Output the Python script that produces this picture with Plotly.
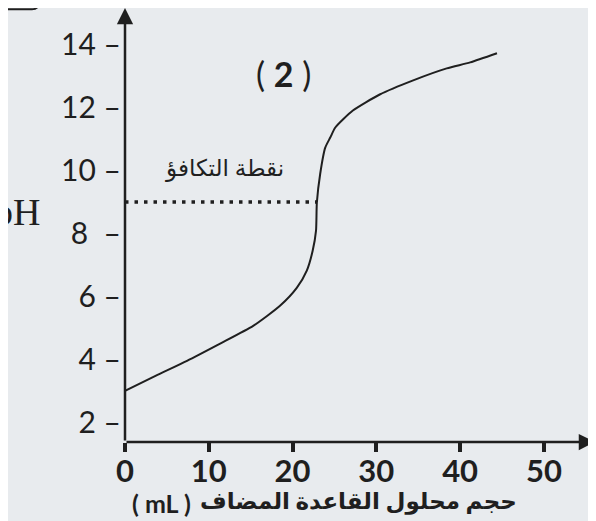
import plotly.graph_objects as go

# Data (volume of added base in mL vs pH)
volume = [0, 3.7, 7.4, 11.3, 15.3, 18.5, 20.5, 21.7, 22.4, 22.8, 22.9, 23.3, 23.9, 24.5, 25.1, 27.2, 30.4, 34.4, 38.4, 41.2, 44.4]
ph = [3.0, 3.48, 3.95, 4.49, 5.06, 5.70, 6.27, 6.82, 7.45, 8.09, 8.98, 9.90, 10.73, 11.05, 11.37, 11.91, 12.42, 12.87, 13.25, 13.44, 13.73]

eq_volume = 22.9
eq_ph = 9

x_ticks = [0, 10, 20, 30, 40, 50]
y_ticks = [2, 4, 6, 8, 10, 12, 14]
y_ticktext = ["2 –", "4 –", "6 –", "8  –", "10 –", "12 –", "14 –"]

x_title_unit = "( mL )"
x_title_text = "حجم محلول القاعدة المضاف"
eq_label = "نقطة التكافؤ"
panel_label = "( <b>2</b> )"
y_title = "pH"

x_range = [0, 56.1]
y_range = [1.37, 15.17]

ink = "#1f1f1f"
bg = "#e8ebee"
font_main = "Lato, 'DejaVu Sans', sans-serif"

fig = go.Figure()

fig.add_trace(go.Scatter(
    x=volume, y=ph, mode="lines",
    line=dict(color=ink, width=2, shape="spline", smoothing=0.6),
    hoverinfo="skip", showlegend=False,
))

fig.add_trace(go.Scatter(
    x=[0, eq_volume], y=[eq_ph, eq_ph], mode="lines",
    line=dict(color=ink, width=3.5, dash="3.5px,6px"),
    hoverinfo="skip", showlegend=False,
))

# axis arrows
fig.add_annotation(x=x_range[1], y=y_range[0], ax=0, ay=y_range[0],
                   xref="x", yref="y", axref="x", ayref="y",
                   showarrow=True, arrowhead=2, arrowsize=1.3, arrowwidth=2.5,
                   arrowcolor=ink, standoff=0, text="")
fig.add_annotation(x=0, y=y_range[1], ax=0, ay=y_range[0],
                   xref="x", yref="y", axref="x", ayref="y",
                   showarrow=True, arrowhead=2, arrowsize=1.3, arrowwidth=2.5,
                   arrowcolor=ink, standoff=0, text="")

# texts
fig.add_annotation(x=11.9, y=10.1, xref="x", yref="y", text=eq_label,
                   showarrow=False, font=dict(family=font_main, size=23, color=ink))
fig.add_annotation(x=18.9, y=13.1, xref="x", yref="y", text=panel_label,
                   showarrow=False, font=dict(family=font_main, size=34, color=ink))
fig.add_annotation(x=-0.283, y=0.53, xref="paper", yref="paper", text=y_title,
                   xanchor="left", yanchor="middle", showarrow=False,
                   font=dict(family="'Liberation Serif', 'DejaVu Serif', serif", size=38, color=ink))
fig.add_annotation(x=(130 - 125) / 470, y=(442 - 503) / 434, xref="paper", yref="paper",
                   text="<b>" + x_title_unit + "</b>",
                   xanchor="left", yanchor="middle", showarrow=False,
                   font=dict(family=font_main, size=25, color=ink))
fig.add_annotation(x=(519 - 125) / 470, y=(442 - 501) / 434, xref="paper", yref="paper",
                   text="<b>" + x_title_text + "</b>",
                   xanchor="right", yanchor="middle", showarrow=False,
                   font=dict(family=font_main, size=23, color=ink))

# corner of a frame box at the top-left
fig.add_shape(type="path", xref="paper", yref="paper",
              path="M -0.249,0.997 L -0.198,0.997 Q -0.182,0.997 -0.18,1.02",
              line=dict(color=ink, width=2))

fig.update_layout(
    width=588, height=513,
    margin=dict(l=117, r=1, t=0, b=79, pad=0),
    paper_bgcolor=bg, plot_bgcolor=bg,
    xaxis=dict(range=x_range, tickvals=x_ticks, ticktext=[f"<b>{v}</b>" for v in x_ticks],
               showgrid=False, zeroline=False, showline=False,
               ticks="outside", ticklen=9, tickwidth=3.5, tickcolor=ink,
               ticklabelstandoff=-7,
               tickfont=dict(family=font_main, size=31, color=ink)),
    yaxis=dict(range=y_range, tickvals=y_ticks, ticktext=y_ticktext,
               showgrid=False, zeroline=False, showline=False,
               ticks="", ticklabelstandoff=3,
               tickfont=dict(family=font_main, size=30, color=ink)),
)

fig.write_html("out.html")
